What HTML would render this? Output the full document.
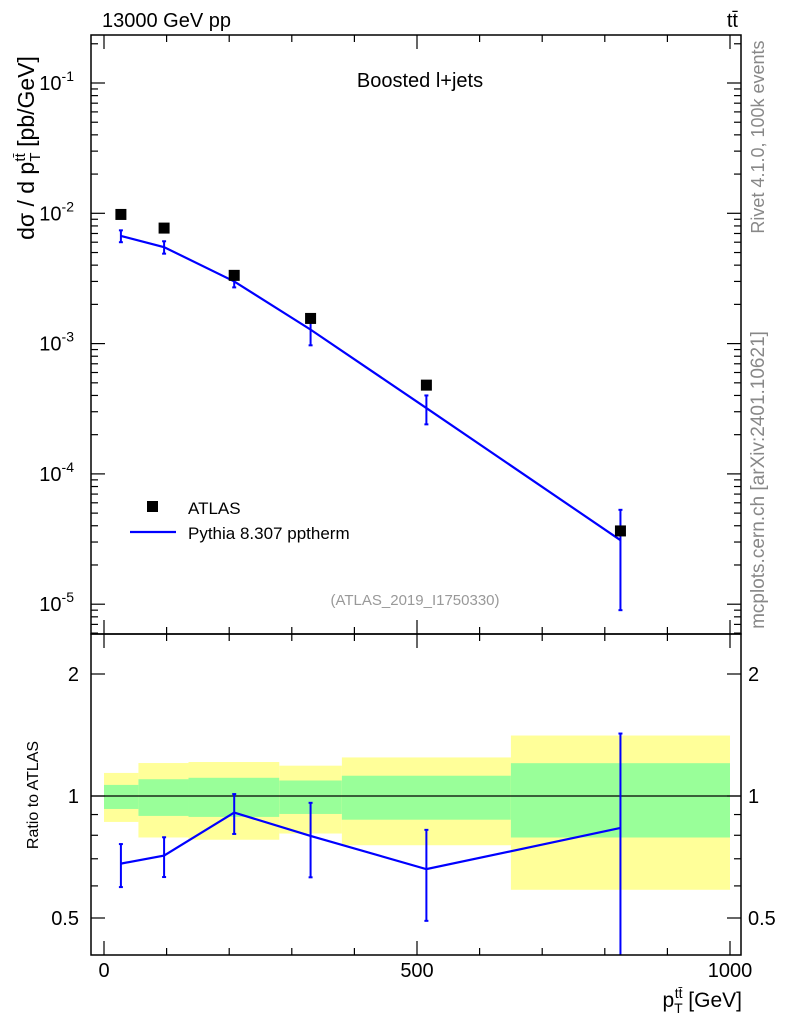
<!DOCTYPE html>
<html><head><meta charset="utf-8"><style>
body{margin:0;background:#fff}
svg{display:block;font-family:"Liberation Sans",sans-serif}
</style></head><body>
<svg id="c" width="786" height="1024" viewBox="0 0 786 1024"></svg>
<script>
const binEdges=[0,55,135,280,380,650,1000];
const yelLo=[0.863,0.79,0.78,0.808,0.756,0.587];
const yelHi=[1.14,1.206,1.213,1.188,1.245,1.41];
const grnLo=[0.929,0.893,0.888,0.903,0.874,0.79];
const grnHi=[1.065,1.10,1.109,1.092,1.122,1.205];
const xPts=[27,96,208,330,515,825];
const atlasVals=[9.8e-3,7.7e-3,3.34e-3,1.56e-3,4.8e-4,3.65e-5];
const mcVals=[6.7e-3,5.5e-3,3.0e-3,1.28e-3,3.2e-4,3.1e-5];
const mcLo=[6.0e-3,4.9e-3,2.7e-3,0.97e-3,2.4e-4,0.9e-5];
const mcHi=[7.4e-3,6.1e-3,3.4e-3,1.55e-3,4.0e-4,5.3e-5];
const ratioVals=[0.681,0.713,0.910,0.797,0.660,0.834];
const ratioLo=[0.596,0.631,0.806,0.63,0.492,0.3];
const ratioHi=[0.761,0.791,1.011,0.962,0.825,1.426];

const NS="http://www.w3.org/2000/svg",svg=document.getElementById('c');
const L=91,R=741,T=35,M=634,B=955;
const X=v=>104+v*0.626;
const Y=v=>83-(Math.log10(v)+1)*130.3;
const YR=v=>796-Math.log2(v)*122;
function el(t,a,p){const e=document.createElementNS(NS,t);for(const k in a)e.setAttribute(k,a[k]);(p||svg).appendChild(e);return e;}
function txt(s,a){const e=el('text',a);e.textContent=s;return e;}

for(let i=0;i<6;i++){
 const b=el('rect',{x:X(binEdges[i]),y:YR(yelHi[i]),width:X(binEdges[i+1])-X(binEdges[i]),height:YR(yelLo[i])-YR(yelHi[i]),fill:'#ffff99'});
 
 
 const g=el('rect',{x:X(binEdges[i]),y:YR(grnHi[i]),width:X(binEdges[i+1])-X(binEdges[i]),height:YR(grnLo[i])-YR(grnHi[i]),fill:'#99ff99'});
 
 
}
el('line',{x1:L,x2:R,y1:YR(1),y2:YR(1),stroke:'#000','stroke-width':1.2});

let pts=xPts.map((x,i)=>X(x)+','+Y(mcVals[i])).join(' ');
const ml=el('polyline',{points:pts,fill:'none',stroke:'#0000ff','stroke-width':2.2});


for(let i=0;i<6;i++){
 const x=X(xPts[i]);
 el('line',{x1:x,x2:x,y1:Y(mcHi[i]),y2:Math.min(Y(mcLo[i]),M),stroke:'#0000ff','stroke-width':2});
 el('line',{x1:x-2,x2:x+2,y1:Y(mcHi[i]),y2:Y(mcHi[i]),stroke:'#0000ff','stroke-width':2});
 el('line',{x1:x-2,x2:x+2,y1:Y(mcLo[i]),y2:Y(mcLo[i]),stroke:'#0000ff','stroke-width':2});
 const s=el('rect',{x:x-5.5,y:Y(atlasVals[i])-5.5,width:11,height:11,fill:'#000'});
 
 
}
pts=xPts.map((x,i)=>X(x)+','+YR(ratioVals[i])).join(' ');
const rl=el('polyline',{points:pts,fill:'none',stroke:'#0000ff','stroke-width':2.2});


for(let i=0;i<6;i++){
 const x=X(xPts[i]),y1=YR(ratioHi[i]),y2=Math.min(YR(ratioLo[i]),B);
 el('line',{x1:x,x2:x,y1:y1,y2:y2,stroke:'#0000ff','stroke-width':2});
 el('line',{x1:x-2,x2:x+2,y1:y1,y2:y1,stroke:'#0000ff','stroke-width':2});
 if(y2<B)el('line',{x1:x-2,x2:x+2,y1:y2,y2:y2,stroke:'#0000ff','stroke-width':2});
}

const f1=el('rect',{x:L,y:T,width:R-L,height:M-T,fill:'none',stroke:'#000','stroke-width':1.5});

const f2=el('rect',{x:L,y:M,width:R-L,height:B-M,fill:'none',stroke:'#000','stroke-width':1.5});


for(let v=0;v<=1000;v+=100){
 const x=X(v),len=v%500==0?14:7;
 for(const [y0,d] of [[T,1],[M,-1],[M,1],[B,-1]])
  el('line',{x1:x,x2:x,y1:y0,y2:y0+d*len,stroke:'#000','stroke-width':1.2});
}
for(const v of [0,500,1000]){const t=txt(v,{x:X(v),y:977,'font-size':20,'text-anchor':'middle'});}
for(let e=-6;e<=0;e++)for(let m=1;m<10;m++){
 const v=m*Math.pow(10,e),y=Y(v);if(y<T||y>M)continue;
 const len=m==1?14:7;
 el('line',{x1:L,x2:L+len,y1:y,y2:y,stroke:'#000','stroke-width':1.2});
 el('line',{x1:R,x2:R-len,y1:y,y2:y,stroke:'#000','stroke-width':1.2});
 if(m==1){const t=el('text',{x:74,y:y+7,'font-size':20,'text-anchor':'end'});t.innerHTML='10<tspan dy="-9" font-size="14">'+e+'</tspan>';}
}
for(const v of [0.5,0.6,0.7,0.8,0.9,1,2]){
 const y=YR(v),len=(v==1||v==2||v==0.5)?14:7;
 el('line',{x1:L,x2:L+len,y1:y,y2:y,stroke:'#000','stroke-width':1.2});
 el('line',{x1:R,x2:R-len,y1:y,y2:y,stroke:'#000','stroke-width':1.2});
}
for(const v of [0.5,1,2]){
 txt(v,{x:79,y:YR(v)+7,'font-size':20,'text-anchor':'end'});
 txt(v,{x:748,y:YR(v)+7,'font-size':20});
}
</script>
<svg width="786" height="1024" style="position:absolute;left:0;top:0;font-family:'Liberation Sans',sans-serif">
<text x="102" y="27" font-size="20">13000 GeV pp</text>
<text x="738" y="27" font-size="20" text-anchor="end">tt̄</text>
<text x="420" y="87" font-size="20" text-anchor="middle">Boosted l+jets</text>
<text transform="translate(34,148) rotate(-90)" font-size="23" text-anchor="middle">dσ / d p<tspan dy="6" font-size="15">T</tspan><tspan dy="-15" dx="-9" font-size="15">tt̄</tspan><tspan dy="9"> [pb/GeV]</tspan></text>
<text transform="translate(38,795) rotate(-90)" font-size="16" text-anchor="middle">Ratio to ATLAS</text>
<text x="742" y="1007" font-size="21" text-anchor="end">p<tspan dy="6" font-size="14">T</tspan><tspan dy="-15" dx="-8" font-size="14">tt̄</tspan><tspan dy="9"> [GeV]</tspan></text>
<text transform="translate(764,137) rotate(-90)" font-size="18" fill="#888" text-anchor="middle">Rivet 4.1.0,  100k events</text>
<text transform="translate(764,480) rotate(-90)" font-size="19" fill="#888" text-anchor="middle">mcplots.cern.ch [arXiv:2401.10621]</text>
<text x="415" y="605" font-size="15" fill="#999" text-anchor="middle">(ATLAS_2019_I1750330)</text>
<rect x="147" y="501" width="11" height="11" fill="#000"/>
<text x="188" y="514" font-size="17">ATLAS</text>
<line x1="130" x2="176" y1="532" y2="532" stroke="#0000ff" stroke-width="2.2"/>
<text x="188" y="539" font-size="17">Pythia 8.307 pptherm</text>
</svg>
</body></html>
